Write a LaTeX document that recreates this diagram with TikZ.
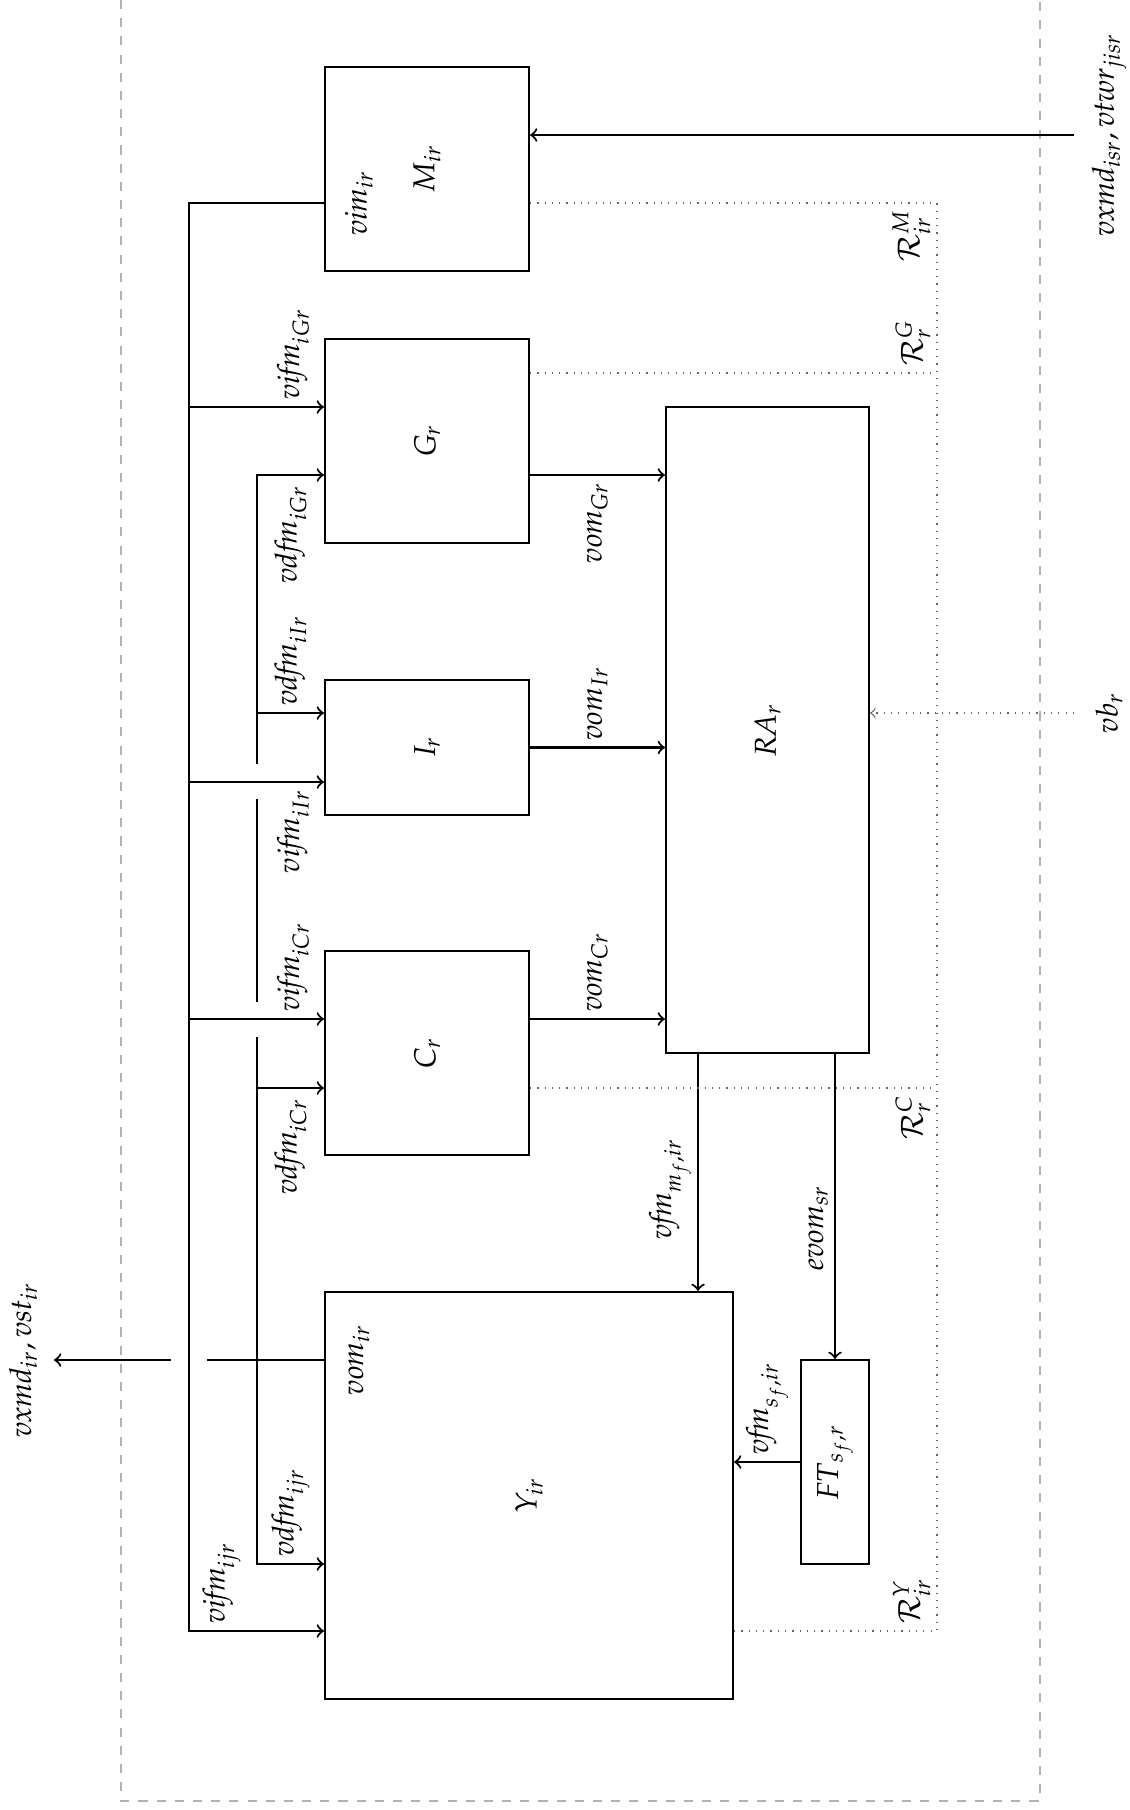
\documentclass[tikz,border=0pt]{standalone}
\usepackage{amsmath}
\usepackage{mathpazo}
\usepackage{graphicx}
\usepackage{tikz}
\usetikzlibrary{calc}
\newcommand{\gridu}{0.0116cm}
\newcommand{\vn}[1]{\mathit{#1}}
\tikzset{
  blk/.style 2 args={draw, line width=0.7pt, inner sep=0pt, minimum width=#1*\gridu, minimum height=#2*\gridu},
  wire/.style={line width=0.7pt},
  flow/.style={line width=0.7pt, ->},
  lbl/.style={rotate=90, inner sep=2pt},
  region/.style={dotted, gray!80!black},
  outer/.style={dashed, gray!60},
}

\begin{document}
\begin{tikzpicture}[x=\gridu, y=-\gridu]
  \useasboundingbox (0,0) rectangle (1129,1810);
  % outer frame
  \draw[outer] (121,0) -- (121,1801) -- (1040,1801) -- (1040,0);
  % blocks
  \node[blk={204}{204}] (M) at (427,169) {\rotatebox{90}{$M_{ir}$}};
  \node[blk={204}{204}] (G) at (427,441) {\rotatebox{90}{$G_r$}};
  \node[blk={204}{135}] (I) at (427,747.5) {\rotatebox{90}{$I_r$}};
  \node[blk={204}{204}] (C) at (427,1053) {\rotatebox{90}{$C_r$}};
  \node[blk={203}{646}] (RA) at (767.5,730) {\rotatebox{90}{$\vn{RA}_r$}};
  \node[blk={408}{407}] (Y) at (529,1495.5) {\rotatebox{90}{$Y_{ir}$}};
  \node[blk={68}{204}] (FT) at (835,1462) {\rotatebox{90}{$\vn{FT}_{s_f,r}$}};
  % levels and buses
  \foreach \n/\v in {vimY/203, rG/373, iG/407, dG/475, dI/713, iI/782,
                     iC/1019, dC/1088, oY/1360, dY/1564, iY/1631}
    \coordinate (\n) at (0,\v);
  \coordinate (ib) at (189,0);
  \coordinate (db) at (257,0);
  \coordinate (rc) at (937,0);
  \coordinate (mf) at (698,0);
  \coordinate (inM) at (1074,135);
  \coordinate (vb) at (1074,713);
  \coordinate (out) at (54,1360);

  % vifm bus
  \draw[flow] (M.west |- vimY) -- (ib |- vimY) |- node[lbl, anchor=west, pos=0.62] {$\vn{vifm}_{ijr}$} (Y.west |- iY);
  \draw[flow] (ib |- iG) -- node[lbl, anchor=west, pos=0.77] {$\vn{vifm}_{iGr}$} (G.west |- iG);
  \draw[flow] (ib |- iI) -- node[lbl, anchor=east, pos=0.77] {$\vn{vifm}_{iIr}$} (I.west |- iI);
  \draw[flow] (ib |- iC) -- node[lbl, anchor=west, pos=0.77] {$\vn{vifm}_{iCr}$} (C.west |- iC);
  % vdfm bus, broken where the vifm arrows cross it
  \draw[flow] ($(db |- iI)+(0,-18)$) |- node[lbl, anchor=east, pos=0.75, inner sep=3pt] {$\vn{vdfm}_{iGr}$} (G.west |- dG);
  \draw[wire] ($(db |- iI)+(0,17)$) -- ($(db |- iC)+(0,-17)$);
  \draw[flow] ($(db |- iC)+(0,18)$) |- node[lbl, anchor=west, pos=0.75] {$\vn{vdfm}_{ijr}$} (Y.west |- dY);
  \draw[flow] (db |- dI) -- node[lbl, anchor=west] {$\vn{vdfm}_{iIr}$} (I.west |- dI);
  \draw[flow] (db |- dC) -- node[lbl, anchor=east, inner sep=3pt] {$\vn{vdfm}_{iCr}$} (C.west |- dC);
  \node[lbl] at ($(M.west |- vimY)+(35,0)$) {$\vn{vim}_{ir}$};

  % output of Y
  \draw[wire] (Y.west |- oY) -- ($(ib |- oY)+(18,0)$);
  \draw[flow] ($(ib |- oY)+(-18,0)$) -- (out);
  \node[lbl] at ($(Y.west |- oY)+(35,0)$) {$\vn{vom}_{ir}$};
  \node[lbl] at ($(out)+(-31,0)$) {$\vn{vxmd}_{ir}, \vn{vst}_{ir}$};

  % input of M
  \draw[flow] (inM) -- (M.east |- inM);
  \node[lbl] at ($(inM)+(35,0)$) {$\vn{vxmd}_{isr}, \vn{vtwr}_{jisr}$};

  % into RA
  \draw[flow] (G.east |- dG) -- node[lbl, anchor=east] {$\vn{vom}_{Gr}$} (RA.west |- dG);
  \draw[flow] (I.east) -- node[lbl, anchor=west] {$\vn{vom}_{Ir}$} (RA.west |- I.east);
  \draw[flow] (C.east |- iC) -- node[lbl, anchor=west] {$\vn{vom}_{Cr}$} (RA.west |- iC);
  \draw[region, ->] (vb) -- (RA.east |- vb);
  \node[lbl] at ($(vb)+(35,0)$) {$\vn{vb}_r$};

  % out of RA
  \draw[flow] (RA.south -| mf) -- node[lbl, anchor=south, pos=0.57] {$\vn{vfm}_{m_f,ir}$} (Y.north -| mf);
  \draw[flow] (RA.south -| FT.north) -- node[lbl, anchor=south, pos=0.57] {$\vn{evom}_{sr}$} (FT.north);
  \draw[flow] (FT.west) -- node[lbl, anchor=west] {$\vn{vfm}_{s_f,ir}$} (Y.east |- FT.west);

  % regions
  \draw[region] (M.east |- vimY) -| (rc |- iY) -- (Y.east |- iY);
  \draw[region] (G.east |- rG) -- (rc |- rG);
  \draw[region] (C.east |- dC) -- (rc |- dC);
  \node[lbl, anchor=south east] at (rc |- vimY) {$\mathcal{R}^M_{ir}$};
  \node[lbl, anchor=south west] at (rc |- rG) {$\mathcal{R}^G_r$};
  \node[lbl, anchor=south east] at (rc |- dC) {$\mathcal{R}^C_r$};
  \node[lbl, anchor=south west] at (rc |- iY) {$\mathcal{R}^Y_{ir}$};
\end{tikzpicture}
\end{document}
